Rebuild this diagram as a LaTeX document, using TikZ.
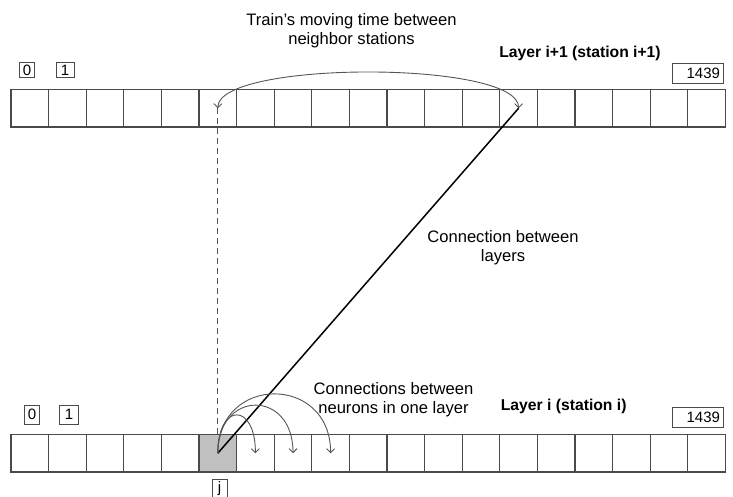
\documentclass[tikz,border=0pt]{standalone}
\usepackage{fontspec}
\setmainfont{Liberation Sans}
\usepackage{tikz}
\usetikzlibrary{arrows.meta}
\definecolor{gridink}{HTML}{4A4A4A}
\definecolor{arcink}{HTML}{555555}
\definecolor{cellfill}{HTML}{C0C0C0}
\tikzset{
  cell/.style={minimum width=37.6pt,minimum height=37.5pt,inner sep=0pt,outer sep=0pt},
  gridline/.style={draw=gridink,line width=1.2pt},
  idxbox/.style={draw=gridink,line width=0.9pt,inner sep=2pt,minimum width=15pt,minimum height=14.5pt,font=\fontsize{15}{17}\selectfont},
  endbox/.style={draw=gridink,line width=0.9pt,inner sep=3pt,text width=45pt,align=right,minimum height=20pt,font=\fontsize{15}{17}\selectfont},
  hop/.style={arcink,line width=0.9pt,-{Straight Barb[length=4pt,width=8pt]}},
  twohop/.style={hop,{Straight Barb[length=4pt,width=8pt]}-{Straight Barb[length=4pt,width=8pt]}},
  note/.style={align=center,font=\fontsize{16.6}{19}\selectfont},
  layername/.style={font=\bfseries\fontsize{15.7}{18}\selectfont}
}

\begin{document}
\begin{tikzpicture}[x=1pt,y=-1pt]
  \useasboundingbox (0,0) rectangle (733,497);
  % two layers, 19 cells each
  \foreach \k in {0,...,18} {
    \node[cell] (t\k) at ({29.8+37.6*\k},108.25) {};
    \node[cell] (b\k) at ({29.8+37.6*\k},453.25) {};
  }
  \node[cell,fill=cellfill] (jcell) at (b5) {};
  \draw[gridline] (t0.north west) rectangle (t18.south east);
  \draw[gridline] (b0.north west) rectangle (b18.south east);
  \foreach \k in {1,...,18} {
    \draw[gridline] (t\k.north west) -- (t\k.south west);
    \draw[gridline] (b\k.north west) -- (b\k.south west);
  }

  % index boxes
  \node[idxbox] (t0lbl) at (27,70) {0};
  \node[idxbox,minimum width=18pt] (t1lbl) at (65,70) {1};
  \node[endbox] (tlast) at (697.5,73) {1439};
  \node[idxbox,minimum height=19pt] (b0lbl) at (32,414.5) {0};
  \node[idxbox,minimum size=19pt] (b1lbl) at (69,414.5) {1};
  \node[endbox] (blast) at (697.5,417) {1439};
  \node[idxbox,minimum height=19pt] (jlbl) at (219.5,489) {j};

  % labels
  \node[note] (trainlbl) at (351.5,31) {Train's moving time between\\neighbor stations};
  \node[layername] (toplayer) at (580,53.5) {Layer i+1 (station i+1)};
  \node[note] (crosslbl) at (503,248) {Connection between\\layers};
  \node[note] (inlbl) at (393.5,399.5) {Connections between\\neurons in one layer};
  \node[layername] (botlayer) at (563.7,406) {Layer i (station i)};

  % connectors
  \draw[arcink,line width=0.9pt,dash pattern=on 6pt off 4pt] (t5.center) -- (jcell.north);
  \draw[twohop] (t13.center) .. controls ([yshift=48pt]t13.center) and ([yshift=48pt]t5.center) .. (t5.center);
  \draw[line width=1.5pt] (jcell.center) -- (t13.center);
  \foreach \k/\h in {6/51,7/64,8/79}
    \draw[hop] (jcell.center) .. controls ([yshift=\h pt]jcell.center) and ([yshift=\h pt]b\k.center) .. (b\k.center);
\end{tikzpicture}
\end{document}
